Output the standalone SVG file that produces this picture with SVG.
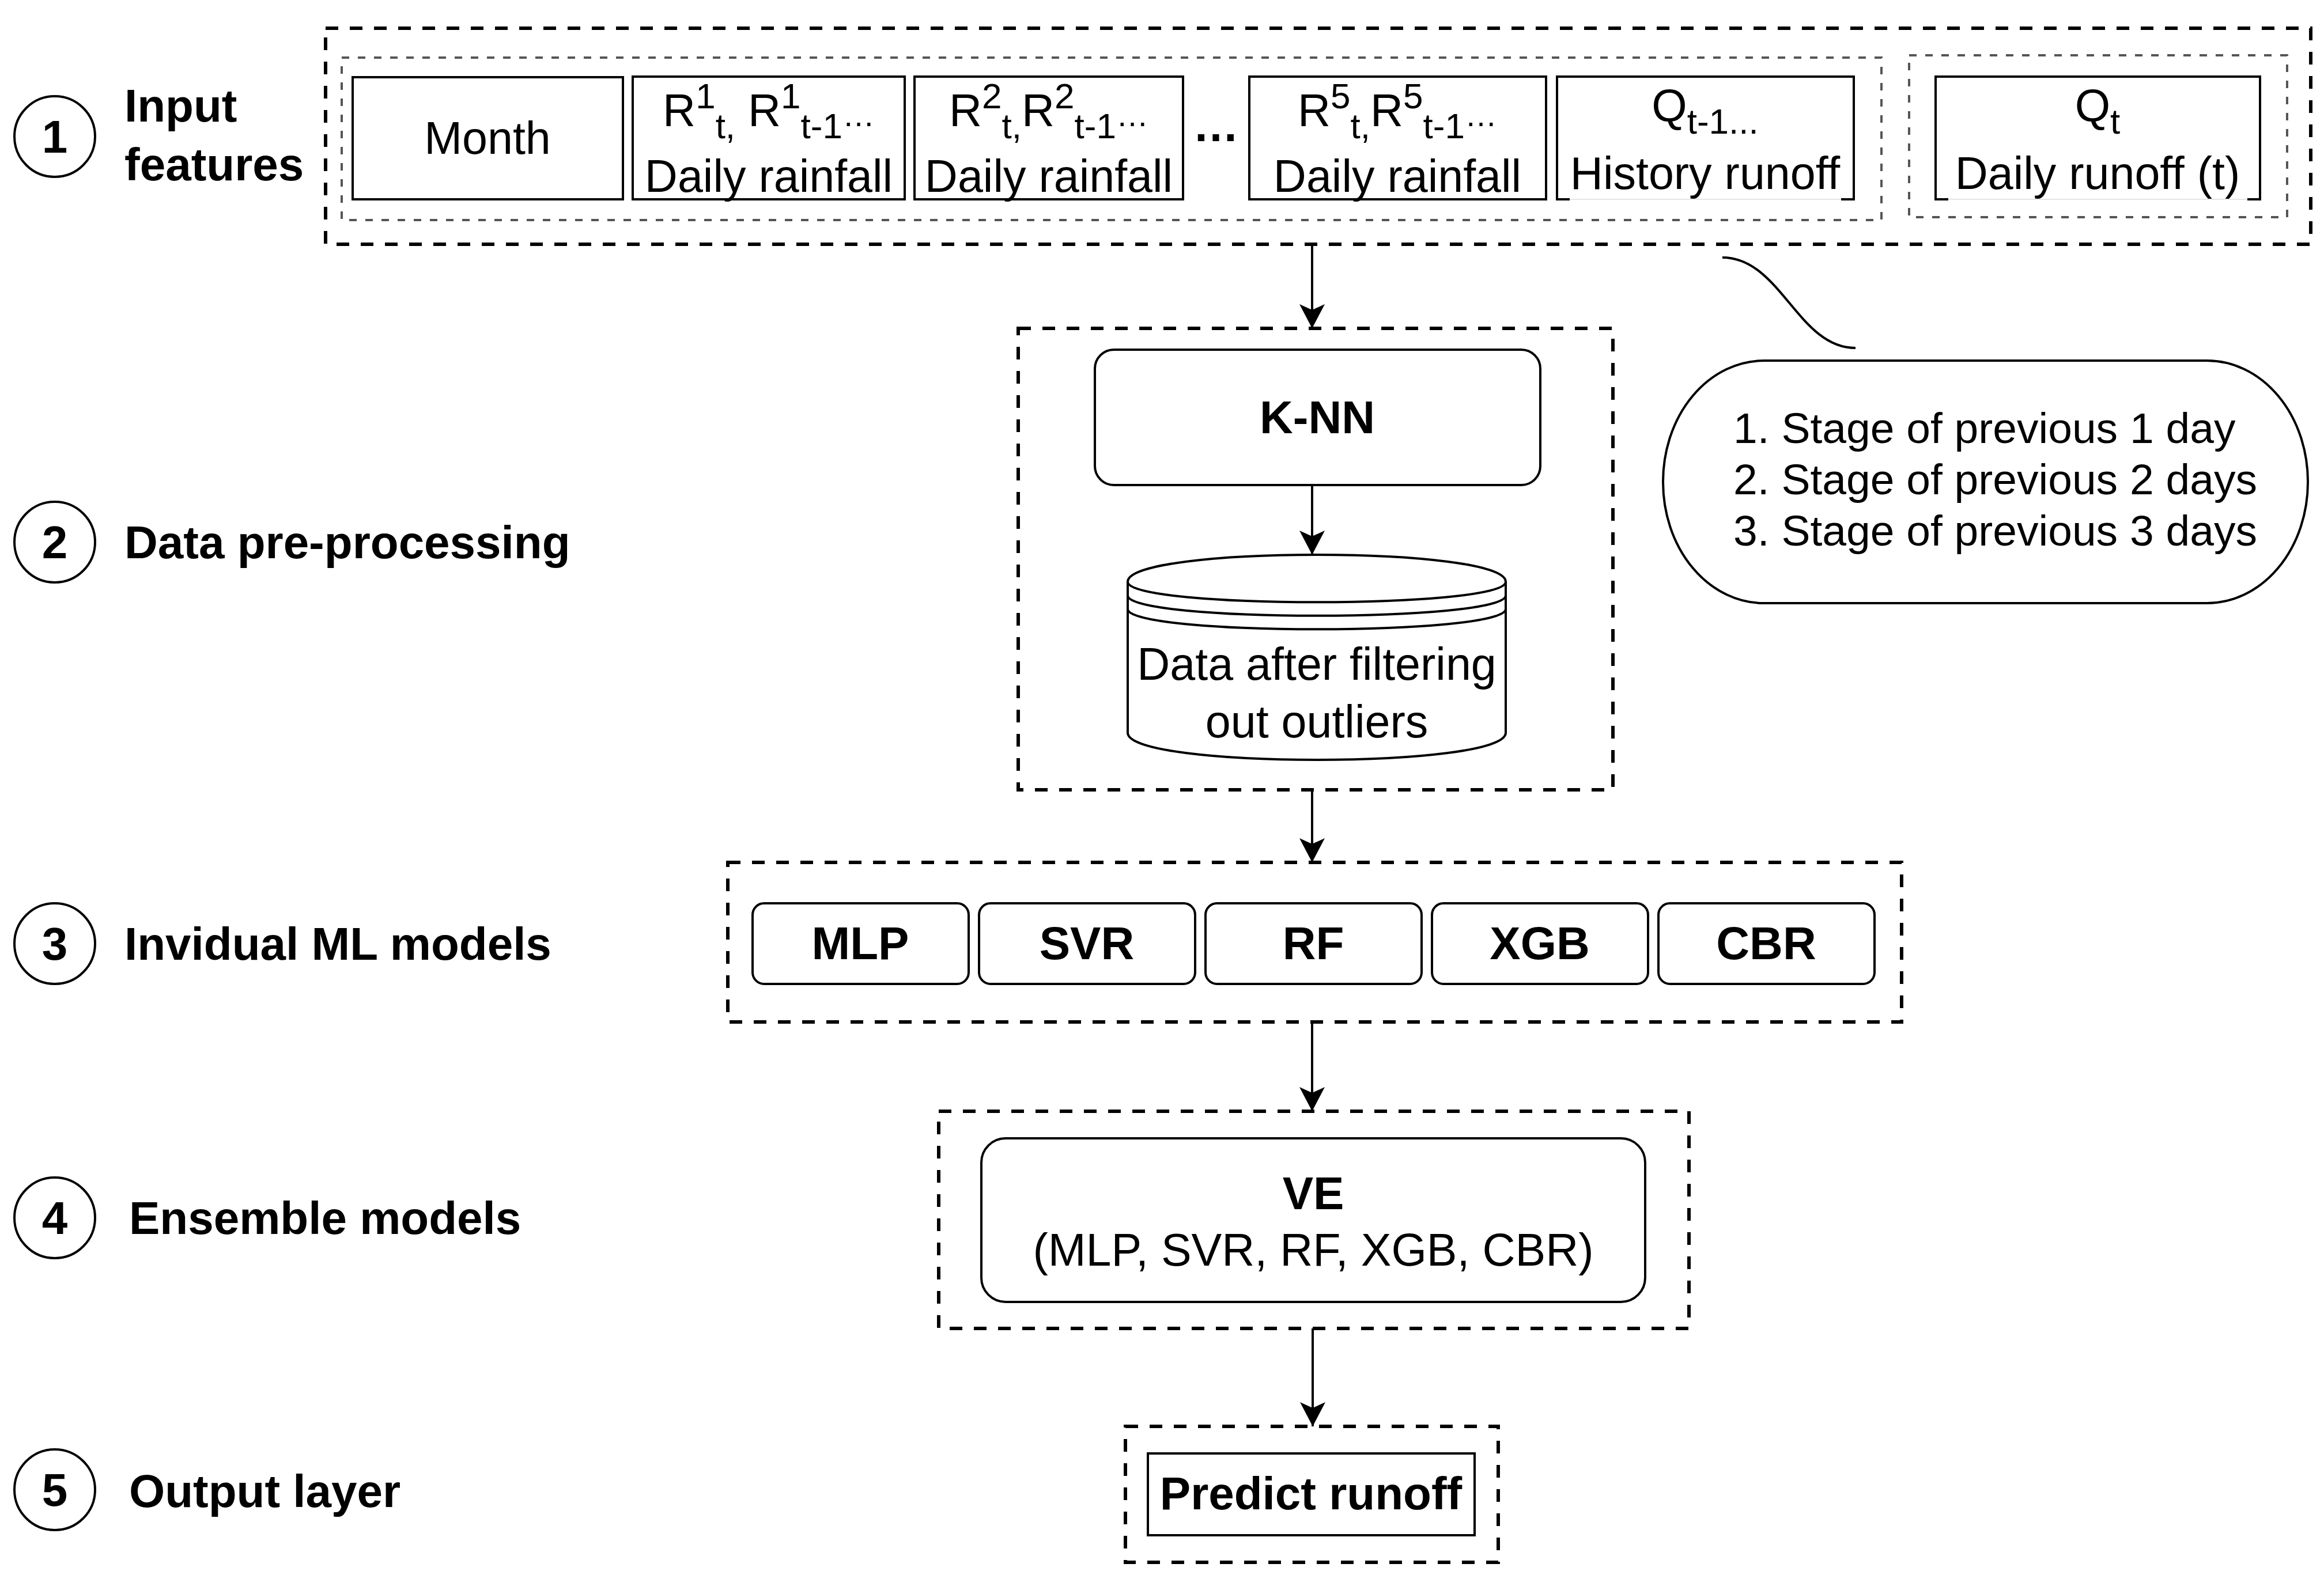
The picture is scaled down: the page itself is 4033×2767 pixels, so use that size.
<svg xmlns="http://www.w3.org/2000/svg" width="4033" height="2767" viewBox="0 0 4033 2767">
<style>
text{font-family:"Liberation Sans",Arial,Helvetica,sans-serif;fill:#000;}
.t{font-size:78px;}
.tc{font-size:79px;text-anchor:middle;}
.b{font-size:80px;font-weight:bold;}
.bc{font-size:80px;font-weight:bold;text-anchor:middle;}
.bub{font-size:75px;}
.outer{fill:none;stroke:#000;stroke-width:6;stroke-dasharray:22 20;}
.inner{fill:none;stroke:#555;stroke-width:4;stroke-dasharray:13 15;}
.box{fill:#fff;stroke:#000;stroke-width:4;}
.line{fill:none;stroke:#000;stroke-width:4;}
.faint{fill:none;stroke:#e6e6e6;stroke-width:2;}
.circ{fill:#fff;stroke:#000;stroke-width:4;}
</style>
<defs>
<marker id="arr" viewBox="0 0 44 44" refX="42" refY="22" markerWidth="44" markerHeight="44" markerUnits="userSpaceOnUse" orient="auto">
<path d="M0,0 L42,22 L0,44 L10,22 Z" fill="#000"/>
</marker>
</defs>
<rect width="4033" height="2767" fill="#fff"/>

<g id="row-labels">
<circle class="circ" cx="95" cy="237" r="70"/><text class="bc" x="95" y="265">1</text>
<text class="b" x="216" y="211">Input</text><text class="b" x="216" y="313">features</text>
<circle class="circ" cx="95" cy="941" r="70"/><text class="bc" x="95" y="969">2</text>
<text class="b" x="216" y="969">Data pre-processing</text>
<circle class="circ" cx="95" cy="1638" r="70"/><text class="bc" x="95" y="1666">3</text>
<text class="b" x="216" y="1666">Invidual ML models</text>
<circle class="circ" cx="95" cy="2114" r="70"/><text class="bc" x="95" y="2142">4</text>
<text class="b" x="224" y="2142">Ensemble models</text>
<circle class="circ" cx="95" cy="2586" r="70"/><text class="bc" x="95" y="2614">5</text>
<text class="b" x="224" y="2616">Output layer</text>
</g>

<g id="input-features">
<rect class="outer" x="565" y="49" width="3445" height="375"/>
<rect class="inner" x="593" y="100" width="2672" height="282"/>
<rect class="inner" x="3313" y="96" width="656" height="281"/>
</g>

<g id="month">
<rect class="box" x="612" y="134" width="469" height="212"/>
<text class="tc" x="846" y="267">Month</text>
</g>

<g id="rain1">
<rect class="box" x="1098" y="133" width="472" height="213"/>
<text class="tc" x="1334" y="219">R<tspan font-size="62" dy="-31">1</tspan><tspan font-size="62" dy="52">t,</tspan><tspan dy="-21"> R</tspan><tspan font-size="62" dy="-31">1</tspan><tspan font-size="62" dy="52">t-1</tspan><tspan font-size="56" dy="-21">…</tspan></text>
<text class="tc" x="1334" y="333">Daily rainfall</text>
</g>

<g id="rain2">
<rect class="box" x="1587" y="133" width="466" height="213"/>
<text class="tc" x="1820" y="219">R<tspan font-size="62" dy="-31">2</tspan><tspan font-size="62" dy="52">t,</tspan><tspan dy="-21">R</tspan><tspan font-size="62" dy="-31">2</tspan><tspan font-size="62" dy="52">t-1</tspan><tspan font-size="56" dy="-21">…</tspan></text>
<text class="tc" x="1820" y="333">Daily rainfall</text>
</g>

<g id="ellipsis">
<text class="bc" x="2110" y="245">…</text>
</g>

<g id="rain5">
<rect class="box" x="2168" y="133" width="515" height="213"/>
<text class="tc" x="2425" y="219">R<tspan font-size="62" dy="-31">5</tspan><tspan font-size="62" dy="52">t,</tspan><tspan dy="-21">R</tspan><tspan font-size="62" dy="-31">5</tspan><tspan font-size="62" dy="52">t-1</tspan><tspan font-size="56" dy="-21">…</tspan></text>
<text class="tc" x="2425" y="333">Daily rainfall</text>
</g>

<g id="history-runoff">
<rect x="2702" y="133" width="515" height="213" fill="#fff"/>
<path class="faint" d="M2724,346 L3195,346"/>
<path class="line" d="M2724,346 L2702,346 L2702,133 L3217,133 L3217,346 L3195,346"/>
<text class="tc" x="2959" y="211">Q<tspan font-size="62" dy="21">t-1...</tspan></text>
<text class="tc" x="2959" y="328">History runoff</text>
</g>

<g id="daily-runoff">
<rect x="3359" y="133" width="563" height="213" fill="#fff"/>
<path class="faint" d="M3381,346 L3900,346"/>
<path class="line" d="M3381,346 L3359,346 L3359,133 L3922,133 L3922,346 L3900,346"/>
<text class="tc" x="3640" y="211">Q<tspan font-size="62" dy="21">t</tspan></text>
<text class="tc" x="3640" y="328">Daily runoff (t)</text>
</g>

<g id="note">
<rect class="box" x="2886" y="626" width="1119" height="421" rx="175" ry="210"/>
<text class="bub" x="3008" y="769">1. Stage of previous 1 day</text>
<text class="bub" x="3008" y="858">2. Stage of previous 2 days</text>
<text class="bub" x="3008" y="947">3. Stage of previous 3 days</text>
</g>

<g id="preprocessing">
<rect class="outer" x="1767" y="570" width="1032" height="801"/>
</g>

<g id="knn">
<rect class="box" x="1900" y="607" width="773" height="235" rx="33" ry="33"/>
<text class="bc" x="2286" y="752">K-NN</text>
</g>

<g id="filtered-data">
<path class="box" d="M1957,1010 C1957,947.3 2613,947.3 2613,1010 L2613,1272 C2613,1334.7 1957,1334.7 1957,1272 Z"/>
<path class="line" d="M1957,1010 C1957,1057 2613,1057 2613,1010"/>
<path class="line" d="M1957,1033.5 C1957,1080.5 2613,1080.5 2613,1033.5"/>
<path class="line" d="M1957,1057 C1957,1104 2613,1104 2613,1057"/>
<text class="tc" x="2285" y="1180">Data after filtering</text>
<text class="tc" x="2285" y="1280">out outliers</text>
</g>

<g id="ml-models">
<rect class="outer" x="1263" y="1497" width="2037" height="277"/>
</g>
<g id="mlp"><rect class="box" x="1306" y="1568" width="375" height="140" rx="20" ry="20"/><text class="bc" x="1493" y="1665">MLP</text></g>
<g id="svr"><rect class="box" x="1699" y="1568" width="375" height="140" rx="20" ry="20"/><text class="bc" x="1886" y="1665">SVR</text></g>
<g id="rf"><rect class="box" x="2092" y="1568" width="375" height="140" rx="20" ry="20"/><text class="bc" x="2279" y="1665">RF</text></g>
<g id="xgb"><rect class="box" x="2485" y="1568" width="375" height="140" rx="20" ry="20"/><text class="bc" x="2672" y="1665">XGB</text></g>
<g id="cbr"><rect class="box" x="2878" y="1568" width="375" height="140" rx="20" ry="20"/><text class="bc" x="3065" y="1665">CBR</text></g>

<g id="ensemble">
<rect class="outer" x="1629" y="1929" width="1302" height="377"/>
<rect class="box" x="1703" y="1976" width="1152" height="284" rx="42" ry="42"/>
<text class="bc" x="2279" y="2099">VE</text>
<text class="tc" x="2279" y="2197">(MLP, SVR, RF, XGB, CBR)</text>
</g>

<g id="output">
<rect class="outer" x="1953" y="2476" width="647" height="236"/>
<rect class="box" x="1992" y="2523" width="567" height="142"/>
<text class="bc" x="2275" y="2620">Predict runoff</text>
</g>

<g id="connectors">
<path class="line" d="M2277,424 L2277,570" marker-end="url(#arr)"/>
<path class="line" d="M2277,842 L2277,963" marker-end="url(#arr)"/>
<path class="line" d="M2277,1371 L2277,1497" marker-end="url(#arr)"/>
<path class="line" d="M2277,1774 L2277,1929" marker-end="url(#arr)"/>
<path class="line" d="M2278,2306 L2278,2476" marker-end="url(#arr)"/>
<path class="line" d="M2989,447 C3090,447 3120,604 3220,604"/>
</g>
</svg>
